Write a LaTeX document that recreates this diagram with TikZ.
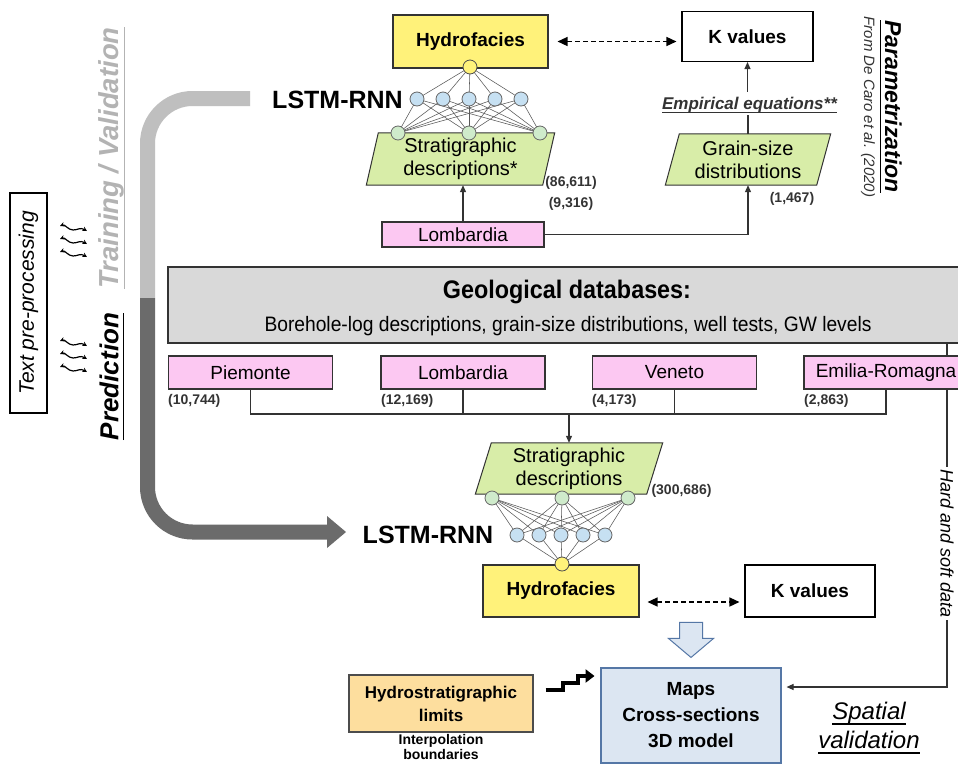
\documentclass[tikz,border=0pt]{standalone}
\usepackage{fontspec}
\setmainfont{Liberation Sans}
\newfontfamily\narrowfont[FakeStretch=0.92]{Liberation Sans}
\usetikzlibrary{arrows.meta,backgrounds,calc}

\definecolor{hydY}{HTML}{FFF27A}
\definecolor{kgreen}{HTML}{D8EDA8}
\definecolor{pinkR}{HTML}{FCC8F2}
\definecolor{geoG}{HTML}{D9D9D9}
\definecolor{orng}{HTML}{FDDE9E}
\definecolor{mapB}{HTML}{DCE6F2}
\definecolor{mapE}{HTML}{5577A6}
\definecolor{lgray}{HTML}{BFBFBF}
\definecolor{dgray}{HTML}{6B6B6B}
\definecolor{lnC}{HTML}{333333}
\definecolor{nBlue}{HTML}{C6E0F2}
\definecolor{nGreen}{HTML}{CFEBCB}
\definecolor{tgray}{HTML}{B3B3B3}

\newcommand{\fsz}[2]{\fontsize{#1}{#2}\selectfont}
\newcommand{\myul}[3]{\setbox0\hbox{#3}\rlap{\rule[-#2]{\wd0}{#1}}\box0}

\tikzset{
 bx/.style={draw=lnC, line width=1.1pt, inner sep=0pt, align=center},
 hydbox/.style={bx, fill=hydY, minimum width=155pt, minimum height=53pt, font=\fsz{19}{22}\bfseries},
 kbox/.style={bx, draw=black, fill=white, minimum width=131pt, minimum height=50pt, font=\fsz{19}{22}\bfseries},
 regbox/.style={bx, fill=pinkR, minimum width=164pt, minimum height=33pt, font=\fsz{19}{22}},
 cnt/.style={inner sep=0pt, font=\fsz{14}{16}\bfseries, text=lnC},
 paratxt/.style={inner sep=0pt, align=center, font=\fsz{20}{23}},
 para/.style={draw=lnC, line width=1pt, fill=kgreen},
 lstm/.style={inner sep=0pt, font=\fsz{25}{28}\bfseries},
 nY/.style={circle, draw=black!70, fill=hydY, line width=0.8pt, minimum size=14pt, inner sep=0pt},
 nB/.style={nY, fill=nBlue, draw=black!60},
 nG/.style={nY, fill=nGreen, draw=black!60},
 wire/.style={draw=black!65, line width=0.55pt},
 conn/.style={draw=lnC, line width=1.1pt},
 arr/.style={conn, -{Triangle[length=7pt,width=6pt]}},
 dasharr/.style={draw=black, line width=1.4pt, dash pattern=on 5pt off 3pt, {Triangle[length=10pt,width=9pt]}-{Triangle[length=10pt,width=9pt]}},
 squig/.style={line width=1.2pt, {Stealth[length=4.5pt,width=4.5pt]}-{Stealth[length=4.5pt,width=4.5pt]}},
}

\begin{document}
\begin{tikzpicture}[x=1pt,y=-1pt]
\useasboundingbox (0,0) rectangle (958,766);
\clip (0,0) rectangle (958,766);

% ---------- left side ----------
\draw[line width=15pt, lgray, rounded corners=45pt] (250,98.5) -- (147.5,98.5) -- (147.5,298);
\draw[line width=15pt, dgray, rounded corners=45pt] (147.5,298) -- (147.5,532) -- (328,532);
\fill[dgray] (327,516) -- (346,532) -- (327,548) -- cycle;

\node[rotate=90, draw=black, line width=1.1pt, minimum width=220pt, minimum height=37pt, inner sep=0pt, font=\fsz{21}{24}\itshape] (tpp) at (28.5,303) {Text pre-processing};
\node[rotate=90, inner sep=0pt, font=\fsz{27.5}{30}\bfseries\itshape, text=tgray] (trv) at (112,158) {\myul{1.3pt}{6pt}{Training / Validation}};
\node[rotate=90, inner sep=0pt, font=\fsz{26}{30}\bfseries\itshape] (pred) at (112,376.5) {\myul{1.3pt}{6pt}{Prediction}};

\foreach \y in {229,242,255,344,357,370}{
  \draw[squig] (60,\y-3) .. controls (65,\y-5) and (68,\y+1) .. (73,\y+1) .. controls (78,\y+1) and (80,\y-2) .. (87,\y+2);
}

% ---------- top part ----------
\node[hydbox] (hyd1) at (470.5,41.5) {Hydrofacies};
\node[kbox] (kv1) at (747.5,36.5) {K values};
\draw[dasharr] ([xshift=9pt]hyd1.east) -- ([xshift=-5pt]hyd1.east -| kv1.west);

\node[lstm] (lstm1) at (337.5,100) {LSTM-RNN};

\node[paratxt, minimum width=176pt, minimum height=52pt] (sd1) at (460.5,159) {Stratigraphic\\descriptions*};
\node[cnt] (c86) at (571,183) {(86,611)};

\node[nY] (ty) at (470,67) {};
\foreach \i/\x in {1/417,2/443,3/469,4/495,5/521} \node[nB] (tb\i) at (\x,99) {};
\foreach \i/\x in {1/398,2/469,3/540} \node[nG] (tg\i) at (\x,133) {};

\node[regbox, minimum width=162pt, minimum height=25pt] (lomb1) at (463,234.5) {Lombardia};
\node[cnt] (c93) at (571,204) {(9,316)};

\node[paratxt, minimum width=151pt, minimum height=51pt] (gs) at (748,159.5) {Grain-size\\distributions};
\node[cnt] (c14) at (792,199) {(1,467)};
\node[inner sep=2pt, font=\fsz{17}{19}\bfseries\itshape, text=lnC] (emp) at (749.5,105) {\myul{1.1pt}{4pt}{Empirical equations**}};

\draw[arr] (lomb1.north) -- (lomb1.north |- sd1.south);
\draw[arr] (lomb1.east) -| (gs.south);
\draw[conn] (gs.north) -- (gs.north |- emp.south);
\draw[arr, shorten <=3pt] (emp.north -| kv1.south) -- (kv1.south);

\node[rotate=-90, inner sep=0pt, font=\fsz{23}{26}\bfseries\itshape] (par) at (891,106.5) {\myul{1.3pt}{5pt}{Parametrization}};
\node[rotate=-90, inner sep=0pt, font=\fsz{15}{17}\itshape, text=black!80] (dc) at (868,107) {From De Caro et al. (2020)};

% ---------- geological databases ----------
\node[bx, draw=black!80, fill=geoG, minimum width=800pt, minimum height=76pt] (geo) at (568,305) {};
\node[inner sep=0pt, font=\narrowfont\fsz{25.4}{28}\bfseries] (geot) at (567,292) {Geological databases:};
\node[inner sep=0pt, font=\narrowfont\fsz{20.9}{24}] (geos) at (568,326) {Borehole-log descriptions, grain-size distributions, well tests, GW levels};

\node[regbox] (pie) at (250.5,372.5) {Piemonte};
\node[regbox] (lom2) at (463,372.5) {Lombardia};
\node[regbox] (ven) at (674.5,372.5) {Veneto};
\node[regbox] (emi) at (886,372.5) {Emilia-Romagna};
\node[cnt, anchor=west] (c10) at (168,400.5) {(10,744)};
\node[cnt, anchor=west] (c12) at (381,400.5) {(12,169)};
\node[cnt, anchor=west] (c4) at (592,400.5) {(4,173)};
\node[cnt, anchor=west] (c2) at (804,400.5) {(2,863)};

\coordinate (busY) at (0,414);
\draw[conn] (pie.south) -- (pie.south |- busY) -- (emi.south |- busY) -- (emi.south);
\draw[conn] (lom2.south) -- (lom2.south |- busY);
\draw[conn] (ven.south) -- (ven.south |- busY);

% ---------- lower part ----------
\node[paratxt, minimum width=171pt, minimum height=51pt] (sd2) at (569,468.5) {Stratigraphic\\descriptions};
\node[cnt] (c300) at (681.5,491) {(300,686)};
\draw[arr] (sd2.north |- busY) -- (sd2.north);

\node[lstm] (lstm2) at (428,535) {LSTM-RNN};

\node[hydbox, minimum width=156pt, minimum height=52pt] (hyd2) at (561,591) {Hydrofacies};
\node[kbox, minimum width=130pt, minimum height=52pt] (kv2) at (810,591) {K values};
\draw[dasharr] ([xshift=8pt,yshift=-11pt]hyd2.east) -- ([xshift=-5pt,yshift=-11pt]kv2.west);

\node[nY] (ly) at (562,564) {};
\foreach \i/\x in {1/517,2/539,3/561,4/583,5/605} \node[nB] (lb\i) at (\x,535) {};
\foreach \i/\x in {1/492,2/562,3/628} \node[nG] (lg\i) at (\x,498) {};

\node[bx, draw=mapE, fill=mapB, minimum width=180pt, minimum height=95pt, font=\fsz{19}{26}\bfseries] (maps) at (691,715.5) {Maps\\Cross-sections\\3D model};
\draw[draw=mapE, fill=mapB, line width=1pt] ($(maps.north)+(-11.5,-45)$) -- ($(maps.north)+(11.5,-45)$) -- ($(maps.north)+(11.5,-29)$) -- ($(maps.north)+(22.5,-29)$) -- ($(maps.north)+(0,-10)$) -- ($(maps.north)+(-22.5,-29)$) -- ($(maps.north)+(-11.5,-29)$) -- cycle;

\node[bx, draw=black!70, fill=orng, minimum width=184pt, minimum height=57pt, font=\fsz{17}{23}\bfseries] (hydro) at (441,703.5) {Hydrostratigraphic\\limits};
\node[inner sep=0pt, align=center, font=\fsz{14}{15}\bfseries] (interp) at (441,747) {Interpolation\\boundaries};
\draw[line width=4pt, black, -{Triangle[length=9pt,width=13pt]}] ($(hydro.east)+(12,-14)$) -- ++(17,0) -- ++(0,-7) -- ++(15,0) -- ++(0,-6.5) -- ++(17,0);

\node[align=center, inner sep=0pt, font=\fsz{24}{29}\itshape] (spv) at (869,728) {\myul{1.3pt}{5pt}{Spatial}\\\myul{1.3pt}{5pt}{validation}};

\node[rotate=-90, fill=white, inner sep=2pt, font=\fsz{18}{20}\itshape] (hs) at (947,543.5) {Hard and soft data};

% ---------- background layer ----------
\begin{scope}[on background layer]
 \fill[white] (0,0) rectangle (958,766);
 \draw[para] ([xshift=6pt]sd1.north west) -- ([xshift=6pt]sd1.north east) -- ([xshift=-6pt]sd1.south east) -- ([xshift=-6pt]sd1.south west) -- cycle;
 \draw[para] ([xshift=7pt]gs.north west) -- ([xshift=7pt]gs.north east) -- ([xshift=-7pt]gs.south east) -- ([xshift=-7pt]gs.south west) -- cycle;
 \draw[para] ([xshift=8pt]sd2.north west) -- ([xshift=8pt]sd2.north east) -- ([xshift=-8pt]sd2.south east) -- ([xshift=-8pt]sd2.south west) -- cycle;
 \foreach \i in {1,...,5}{
   \draw[wire] (ty.center) -- (tb\i.center);
   \draw[wire] (ly.center) -- (lb\i.center);
   \foreach \j in {1,2,3}{
     \draw[wire] (tb\i.center) -- (tg\j.center);
     \draw[wire] (lb\i.center) -- (lg\j.center);
   }
 }
 \draw[conn] (geo.south -| hs.west) -- (hs.west);
 \draw[arr, shorten >=5pt] (hs.east) |- ([yshift=28.5pt]maps.east);
\end{scope}
\end{tikzpicture}
\end{document}
